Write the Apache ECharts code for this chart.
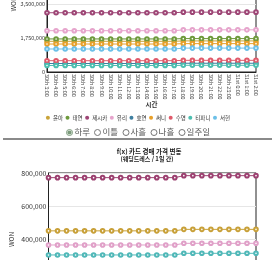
<!DOCTYPE html>
<html><head><meta charset="utf-8">
<script src="https://cdn.jsdelivr.net/npm/echarts@6/dist/echarts.min.js"></script>
<style>
html,body{margin:0;padding:0;width:276px;height:260px;overflow:hidden;background:#fff;font-family:"Noto Sans CJK KR",sans-serif;}
#c1{position:absolute;left:0;top:-80px;width:276px;height:210px;}
#c2{position:absolute;left:0;top:140px;width:276px;height:200px;}
#radios{position:absolute;left:0;top:125px;width:276px;text-align:center;font-size:8.5px;color:#555;line-height:12px;white-space:nowrap;z-index:2;}
#radios label{margin:0 1px;}
#radios input{width:7.5px;height:7.5px;margin:0 1px 0 0;vertical-align:-1px;accent-color:#7a9a7a;}
#sep{position:absolute;left:3px;top:138px;width:269px;height:1.5px;background:#8a8a8a;z-index:3;}
</style></head>
<body>
<div id="c1"></div>
<div id="radios">
<label><input type="radio" name="p" checked>하루</label>
<label><input type="radio" name="p">이틀</label>
<label><input type="radio" name="p">사흘</label>
<label><input type="radio" name="p">나흘</label>
<label><input type="radio" name="p">일주일</label>
</div>
<div id="c2"></div>
<div id="sep"></div>
<script>
// ---- data ----
const categories = ["30th 3:00","30th 4:00","30th 5:00","30th 6:00","30th 7:00","30th 8:00","30th 9:00","30th 10:00","30th 11:00","30th 12:00","30th 13:00","30th 14:00","30th 15:00","30th 16:00","30th 17:00","30th 18:00","30th 19:00","30th 20:00","30th 21:00","30th 22:00","30th 23:00","31st 0:00","31st 1:00","31st 2:00"];

const snsdNames = ["윤아","태연","제시카","유리","효연","써니","수영","티파니","서현"];
const yoona   = [1580000,1580000,1580000,1580000,1580000,1580000,1580000,1580000,1580000,1580000,1580000,1580000,1580000,1580000,1580000,1600000,1600000,1600000,1600000,1600000,1600000,1600000,1600000,1600000];
const taeyeon = [1700000,1700000,1700000,1700000,1700000,1700000,1700000,1700000,1700000,1700000,1700000,1700000,1700000,1700000,1700000,1720000,1720000,1720000,1720000,1720000,1720000,1720000,1720000,1720000];
const jessica = [3050000,3050000,3050000,3050000,3050000,3050000,3050000,3050000,3050000,3050000,3050000,3050000,3050000,3050000,3050000,3080000,3080000,3080000,3080000,3080000,3080000,3080000,3080000,3080000];
const yuri    = [2126000,2126000,2126000,2126000,2126000,2126000,2126000,2126000,2126000,2126000,2126000,2126000,2126000,2126000,2126000,2170000,2170000,2170000,2170000,2170000,2170000,2170000,2170000,2170000];
const hyoyeon = [437000,437000,437000,437000,437000,437000,437000,437000,437000,437000,437000,437000,437000,437000,437000,450000,450000,450000,450000,450000,450000,450000,450000,450000];
const sunny   = [1440000,1440000,1440000,1440000,1440000,1440000,1440000,1440000,1440000,1440000,1440000,1440000,1440000,1440000,1440000,1460000,1460000,1460000,1460000,1460000,1460000,1460000,1460000,1460000];
const sooyoung= [582000,582000,582000,582000,582000,582000,582000,582000,582000,582000,582000,582000,582000,582000,582000,600000,600000,600000,600000,600000,600000,600000,600000,600000];
const tiffany = [335000,335000,335000,335000,335000,335000,335000,335000,335000,335000,335000,335000,335000,335000,335000,345000,345000,345000,345000,345000,345000,345000,345000,345000];
const seohyun = [1184000,1184000,1184000,1184000,1184000,1184000,1184000,1184000,1184000,1184000,1184000,1184000,1184000,1184000,1184000,1230000,1230000,1230000,1230000,1230000,1230000,1230000,1230000,1230000];
const snsdColors = ["#c9a43a","#6e9a3c","#9e4676","#e6a4cc","#3f7fa0","#e8a02a","#e05a6a","#4cbfb0","#6cc0e8"];

const fxTitle = "f(x) 카드 경매 가격 변동";
const fxSubtitle = "(웨딩드레스 / 1일 간)";
const fxNames = ["크리스탈","빅토리아","루나","설리"];
const fxA = [772000,772000,772000,772000,772000,772000,772000,772000,772000,772000,772000,772000,772000,772000,772000,784000,784000,784000,784000,784000,784000,784000,784000,784000];
const fxB = [452000,452000,452000,452000,452000,452000,452000,452000,452000,452000,452000,452000,452000,452000,452000,461000,461000,461000,461000,461000,461000,461000,461000,461000];
const fxC = [367000,367000,367000,367000,367000,367000,367000,367000,367000,367000,367000,367000,367000,367000,367000,377000,377000,377000,377000,377000,377000,377000,377000,377000];
const fxD = [307000,307000,307000,307000,307000,307000,307000,307000,307000,307000,307000,307000,307000,307000,307000,317000,317000,317000,317000,317000,317000,317000,317000,317000];
const fxColors = ["#9c4070","#c8a038","#e0a0c8","#50b8b8"];

const FONT = '"Noto Sans CJK KR", sans-serif';
function mkSeries(names, datas, colors){
  return names.map((n,i)=>({
    name:n, type:'line', data:datas[i], symbol:'emptyCircle', symbolSize:3.6,
    lineStyle:{width:1,color:colors[i]}, itemStyle:{color:colors[i],borderWidth:0.9},
    animation:false
  }));
}

const c1 = echarts.init(document.getElementById('c1'));
c1.setOption({
  textStyle:{fontFamily:FONT},
  legend:{data:snsdNames.map((n,i)=>({name:n,icon:'circle'})), top:190, left:'center',
    itemWidth:4,itemHeight:4,itemGap:2.5,textStyle:{fontSize:5.5,color:'#333',fontFamily:FONT,padding:[0,0,0,-2]}},
  grid:{left:47,right:20,top:16,bottom:58,show:true,borderColor:'#222',borderWidth:1},
  xAxis:{type:'category',data:categories,boundaryGap:false,
    name:'시간',nameLocation:'middle',nameGap:29,nameMoveOverlap:false,nameTextStyle:{fontSize:6.5,fontWeight:'bold',color:'#333'},
    axisLine:{lineStyle:{color:'#222'}},axisTick:{show:false},
    axisLabel:{rotate:-90,fontSize:5.3,color:'#444',margin:2,interval:0}},
  yAxis:{type:'value',min:0,max:7000000,interval:1750000,
    name:'WON',nameLocation:'middle',nameGap:30,nameMoveOverlap:false,nameTextStyle:{fontSize:6.5,color:'#333'},
    axisLine:{show:true,lineStyle:{color:'#222'}},axisTick:{show:false},
    axisLabel:{fontSize:5.5,color:'#333',margin:2,formatter:v=>v.toLocaleString('en-US')},
    splitLine:{lineStyle:{color:'#e6e6e6'}}},
  series:mkSeries(snsdNames,[yoona,taeyeon,jessica,yuri,hyoyeon,sunny,sooyoung,tiffany,seohyun],snsdColors),
  animation:false
});

const c2 = echarts.init(document.getElementById('c2'));
c2.setOption({
  textStyle:{fontFamily:FONT},
  graphic:[
    {type:'text',x:149,y:12,style:{text:fxTitle,fill:'#222',align:'center',verticalAlign:'middle',font:'bold 6.5px '+FONT}},
    {type:'text',x:147,y:19,style:{text:fxSubtitle,fill:'#222',align:'center',verticalAlign:'middle',font:'bold 6px '+FONT}}
  ],
  grid:{left:43,right:20,top:33,bottom:34,show:true,borderColor:'#222',borderWidth:1},
  xAxis:{type:'category',data:categories,boundaryGap:false,
    axisLine:{lineStyle:{color:'#222'}},axisTick:{show:false},
    axisLabel:{rotate:-90,fontSize:5.3,color:'#444',margin:2,interval:0}},
  yAxis:{type:'value',min:0,max:800000,interval:200000,
    name:'WON',nameLocation:'middle',nameGap:34,nameMoveOverlap:false,nameTextStyle:{fontSize:6.5,color:'#333'},
    axisLine:{show:true,lineStyle:{color:'#222'}},axisTick:{show:false},
    axisLabel:{fontSize:7,color:'#333',margin:2,formatter:v=>v.toLocaleString('en-US')},
    splitLine:{lineStyle:{color:'#e6e6e6'}}},
  series:mkSeries(fxNames,[fxA,fxB,fxC,fxD],fxColors),
  animation:false
});
</script>
</body></html>
